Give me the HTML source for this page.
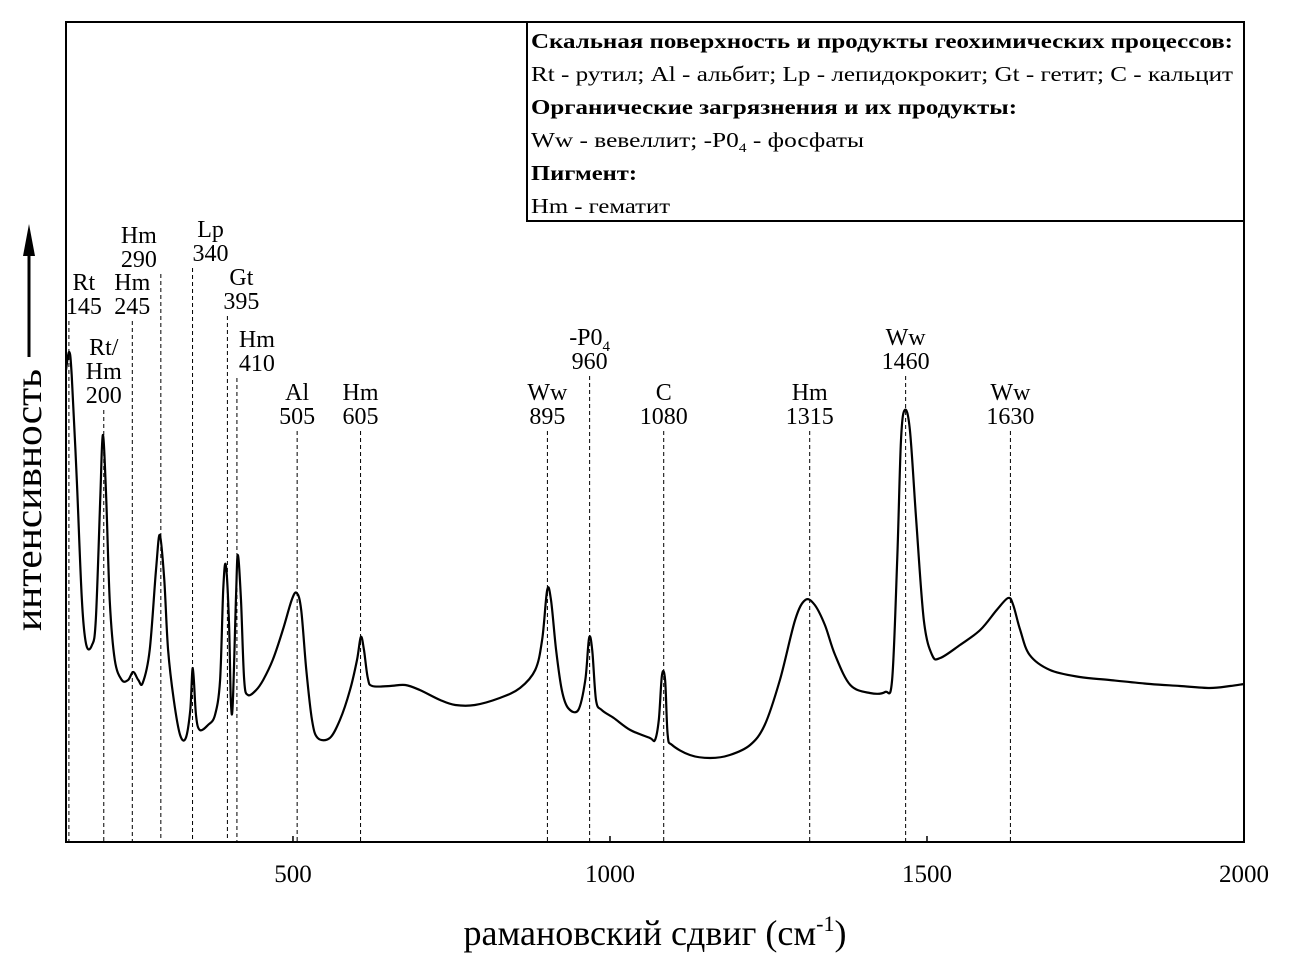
<!DOCTYPE html>
<html><head><meta charset="utf-8"><style>
body{margin:0;background:#fff}
svg text{font-family:"Liberation Serif",serif;fill:#000}
</style></head><body>
<svg width="1289" height="972" viewBox="0 0 1289 972">
<rect x="0" y="0" width="1289" height="972" fill="#fff"/>
<g id="marks"></g>
<rect x="66" y="22" width="1178" height="820" fill="none" stroke="#000" stroke-width="2"/>
<g>
<rect x="527" y="22" width="717" height="199" fill="#fff" stroke="#000" stroke-width="2"/>
<text x="531" y="48" font-size="21" font-weight="bold" textLength="702" lengthAdjust="spacingAndGlyphs">Скальная поверхность и продукты геохимических процессов:</text>
<text x="531" y="81" font-size="21" textLength="702" lengthAdjust="spacingAndGlyphs">Rt - рутил;  Al - альбит; Lp - лепидокрокит; Gt - гетит; C - кальцит</text>
<text x="531" y="114" font-size="21" font-weight="bold" textLength="486" lengthAdjust="spacingAndGlyphs">Органические загрязнения и их продукты:</text>
<text x="531" y="147" font-size="21" textLength="333" lengthAdjust="spacingAndGlyphs">Ww - вевеллит; -P0<tspan font-size="13" dy="5">4</tspan><tspan dy="-5"> - фосфаты</tspan></text>
<text x="531" y="180" font-size="21" font-weight="bold" textLength="106" lengthAdjust="spacingAndGlyphs">Пигмент:</text>
<text x="531" y="213" font-size="21" textLength="139" lengthAdjust="spacingAndGlyphs">Hm - гематит</text>
</g>
<g id="xaxis"></g>
<text x="655" y="945" font-size="36" text-anchor="middle">рамановский сдвиг (см<tspan font-size="22" dy="-14">-1</tspan><tspan dy="14">)</tspan></text>
<g>
<text transform="translate(41,500) rotate(-90)" font-size="38" text-anchor="middle" textLength="262" lengthAdjust="spacingAndGlyphs">интенсивность</text>
<line x1="29" y1="357" x2="29" y2="250" stroke="#000" stroke-width="3"/>
<polygon points="29,224 23,256 35,256" fill="#000"/>
</g>
</svg>
<script>
const specX=[142,147,151,159,167,174,183,189,196,200,205,211,219,230,240,248,256,263,274,284,290,297,303,312,322,331,338,342,347,353,366,377,385,390,394,399,402,405,410,413,418,423,429,442,453,468,484,498,506,513,521,530,539,558,574,590,601,607,612,618,625,653,677,700,732,756,787,826,858,882,893,901,907,915,924,934,950,961,967,972,978,987,1006,1032,1063,1071,1077,1082,1087,1091,1098,1126,1158,1189,1221,1244,1268,1292,1308,1323,1339,1355,1379,1410,1434,1445,1453,1459,1465,1473,1483,1495,1508,1521,1552,1584,1610,1628,1636,1647,1662,1694,1741,1788,1852,1899,1946,1978,2000];
const specY=[472,490,467,362,242,197,197,222,342,407,352,242,182,162,162,170,162,159,192,272,307,262,192,142,107,104,132,174,127,112,117,127,162,252,277,222,142,137,242,287,242,162,147,152,162,182,212,242,249,232,172,122,104,104,122,152,182,205,192,164,156,156,157,152,142,137,137,144,154,172,202,252,242,192,152,134,132,162,204,192,142,132,124,112,104,102,122,167,162,107,97,87,84,87,97,117,162,222,242,237,217,187,157,149,150,162,282,402,432,412,322,222,187,184,197,212,232,244,237,212,187,172,165,162,158,156,154,156,158];
const peakVals=[145,200,245,290,340,395,410,505,605,895,960,1080,1315,1460,1630];
const peakNames=["Rt","Rt/|Hm","Hm","Hm","Lp","Gt","Hm","Al","Hm","Ww","-P0₄","C","Hm","Ww","Ww"];
const xTicks=[500,1000,1500,2000];
// layout (not data)
const labelDx=[15,0,0,-22,18,14,20,0,0,0,0,0,0,0,0];
const lineShift=[1,1,1,1,1,1,1,1,1,4,5,3,0,4,1];
const labelTop=[290,355,290,243,237,285,347,400,400,400,345,400,400,345,400];
const X0=142,X1=2000,PX0=66,PX1=1244,PY0=842,PY1=22,YMAX=820;
const sx=v=>PX0+(v-X0)/(X1-X0)*(PX1-PX0);
const sy=v=>PY0-v/YMAX*(PY0-PY1);
const NS="http://www.w3.org/2000/svg";
const marks=document.getElementById('marks');
function mk(t,a,p){const e=document.createElementNS(NS,t);for(const k in a)e.setAttribute(k,a[k]);(p||marks).appendChild(e);return e;}
peakVals.forEach((v,i)=>{
 const x=sx(v);const lines=peakNames[i].split('|');lines.push(String(v));
 const g=mk('g',{});
 
 
 lines.forEach((s,j)=>{
  const t=mk('text',{x:x+lineShift[i]+labelDx[i],y:labelTop[i]+j*24,'font-size':24,'text-anchor':'middle'},g);
  if(s.indexOf('₄')>=0){t.textContent='-P0';const ts=mk('tspan',{'font-size':15,dy:6},t);ts.textContent='4';}
  else t.textContent=s;
 });
 const lx=x+lineShift[i];
 const ln=mk('line',{x1:lx,x2:lx,y1:labelTop[i]+(lines.length-1)*24+7,y2:PY0,stroke:'#000','stroke-width':1,'stroke-dasharray':'4,3'},g);
 
 
});
const pts=specX.map((v,i)=>[sx(v),sy(specY[i])]);
let d='M'+pts[0][0]+','+pts[0][1];
for(let i=0;i<pts.length-1;i++){
 const p0=pts[Math.max(0,i-1)],p1=pts[i],p2=pts[i+1],p3=pts[Math.min(pts.length-1,i+2)];
 const c1=[p1[0]+(p2[0]-p0[0])/6,p1[1]+(p2[1]-p0[1])/6],c2=[p2[0]-(p3[0]-p1[0])/6,p2[1]-(p3[1]-p1[1])/6];
 d+=` C${c1[0].toFixed(1)},${c1[1].toFixed(1)} ${c2[0].toFixed(1)},${c2[1].toFixed(1)} ${p2[0].toFixed(1)},${p2[1].toFixed(1)}`;
}
const path=mk('path',{d:d,fill:'none',stroke:'#000','stroke-width':2.2,'stroke-linejoin':'round'});


const xa=document.getElementById('xaxis');
xTicks.forEach(v=>{
 const x=sx(v);
 const tk=mk('line',{x1:x,x2:x,y1:PY0,y2:PY0-6,stroke:'#000','stroke-width':1.5},xa);
 
 
 const t=mk('text',{x:x,y:882,'font-size':25,'text-anchor':'middle'},xa);
 t.textContent=v;
 
 
});
</script>
</body></html>
